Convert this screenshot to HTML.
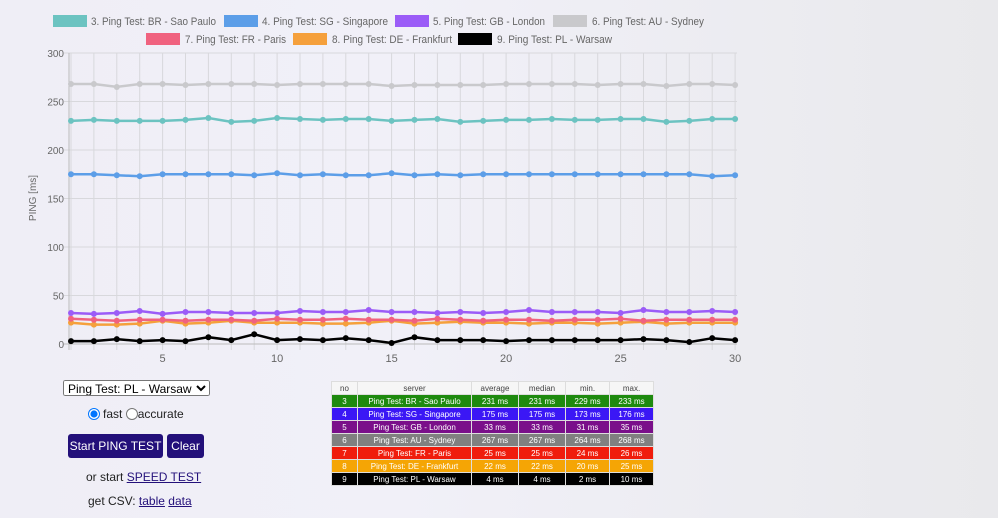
<!DOCTYPE html>
<html><head><style>
body{margin:0;width:998px;height:518px;overflow:hidden;font-family:"Liberation Sans",Arial,sans-serif;background:linear-gradient(90deg,#efeef6 0%,#f1f0f8 40%,#ececf1 75%,#e9e9ec 100%);position:relative}
.t{position:absolute;left:331px;top:381px;border-collapse:collapse;font-size:8px;text-align:center}
.t td{border:1px solid #ddd;height:12px;padding:0;white-space:nowrap}
.t tr.h td{background:#f6f6f6;color:#444}
.t tr td{color:#fff}
.b{position:absolute;top:434px;height:24px;background:#23107a;color:#fff;font-size:12px;border-radius:3px;line-height:24px;text-align:center;white-space:nowrap}
</style></head><body>
<svg width="998" height="380" style="position:absolute;left:0;top:0" font-family="Liberation Sans, Arial, sans-serif">
<g font-size="11" fill="#666" lengthAdjust="spacingAndGlyphs">
<rect x="53" y="15" width="34" height="12" fill="#6cc3c1"/><text x="91" y="25" textLength="125" lengthAdjust="spacingAndGlyphs">3. Ping Test: BR - Sao Paulo</text>
<rect x="224" y="15" width="34" height="12" fill="#5c9ee8"/><text x="262" y="25" textLength="126" lengthAdjust="spacingAndGlyphs">4. Ping Test: SG - Singapore</text>
<rect x="395" y="15" width="34" height="12" fill="#9b5cf7"/><text x="433" y="25" textLength="112" lengthAdjust="spacingAndGlyphs">5. Ping Test: GB - London</text>
<rect x="553" y="15" width="34" height="12" fill="#c9c9cc"/><text x="592" y="25" textLength="112" lengthAdjust="spacingAndGlyphs">6. Ping Test: AU - Sydney</text>
<rect x="146" y="33" width="34" height="12" fill="#f0627f"/><text x="185" y="43" textLength="101" lengthAdjust="spacingAndGlyphs">7. Ping Test: FR - Paris</text>
<rect x="293" y="33" width="34" height="12" fill="#f5a03c"/><text x="332" y="43" textLength="120" lengthAdjust="spacingAndGlyphs">8. Ping Test: DE - Frankfurt</text>
<rect x="458" y="33" width="34" height="12" fill="#000"/><text x="497" y="43" textLength="115" lengthAdjust="spacingAndGlyphs">9. Ping Test: PL - Warsaw</text>
</g>
<g id="grid" stroke="#d8d8dc" stroke-width="1"></g>
<g id="ylab" font-size="10" fill="#666" text-anchor="end"></g>
<g id="xlab" font-size="11" fill="#666" text-anchor="middle"></g>
<text transform="translate(36,198) rotate(-90)" font-size="10" fill="#666" text-anchor="middle">PING [ms]</text>
<g id="series"></g>
</svg>
<select style="position:absolute;left:63px;top:380px;width:147px;height:16px;font-size:12px;font-family:'Liberation Sans',Arial;padding:0"><option>Ping Test: PL - Warsaw</option></select>
<div style="position:absolute;left:88px;top:407px;font-size:12px;color:#222"><input type="radio" checked style="margin:0 3px 0 0;width:12px;height:12px;vertical-align:-2px">fast <input type="radio" style="margin:0;width:12px;height:12px;vertical-align:-2px">accurate</div>
<div class="b" style="left:68px;width:95px">Start PING TEST</div>
<div class="b" style="left:167px;width:37px">Clear</div>
<div style="position:absolute;left:86px;top:470px;font-size:12px;color:#222">or start <u style="color:#23107a">SPEED TEST</u></div>
<div style="position:absolute;left:88px;top:494px;font-size:12px;color:#222">get CSV: <u style="color:#23107a">table</u> <u style="color:#23107a">data</u></div>
<table class="t">
<tr class="h"><td style="width:25px">no</td><td style="width:113px">server</td><td style="width:46px">average</td><td style="width:46px">median</td><td style="width:43px">min.</td><td style="width:43px">max.</td></tr>
<tr style="background:#1e8a0e"><td>3</td><td>Ping Test: BR - Sao Paulo</td><td>231 ms</td><td>231 ms</td><td>229 ms</td><td>233 ms</td></tr>
<tr style="background:#3b17f5"><td>4</td><td>Ping Test: SG - Singapore</td><td>175 ms</td><td>175 ms</td><td>173 ms</td><td>176 ms</td></tr>
<tr style="background:#7a0f8a"><td>5</td><td>Ping Test: GB - London</td><td>33 ms</td><td>33 ms</td><td>31 ms</td><td>35 ms</td></tr>
<tr style="background:#808080"><td>6</td><td>Ping Test: AU - Sydney</td><td>267 ms</td><td>267 ms</td><td>264 ms</td><td>268 ms</td></tr>
<tr style="background:#f01c0c"><td>7</td><td>Ping Test: FR - Paris</td><td>25 ms</td><td>25 ms</td><td>24 ms</td><td>26 ms</td></tr>
<tr style="background:#f5a505"><td>8</td><td>Ping Test: DE - Frankfurt</td><td>22 ms</td><td>22 ms</td><td>20 ms</td><td>25 ms</td></tr>
<tr style="background:#000"><td>9</td><td>Ping Test: PL - Warsaw</td><td>4 ms</td><td>4 ms</td><td>2 ms</td><td>10 ms</td></tr>
</table>
<script>
function X(i){return 71+i*22.9}function Y(v){return 344-v*0.97}
var h='';
for(var i=0;i<30;i++)h+='<line x1="'+X(i)+'" y1="53" x2="'+X(i)+'" y2="350"/>';
for(var v=0;v<=300;v+=50)h+='<line x1="64" y1="'+Y(v)+'" x2="737" y2="'+Y(v)+'"/>';
h+='<line x1="69" y1="53" x2="69" y2="350" stroke="#bbb"/><line x1="64" y1="344" x2="737" y2="344" stroke="#bbb"/>';
document.getElementById('grid').innerHTML=h;
var yl='';[300,250,200,150,100,50,0].forEach(function(v){yl+='<text x="64" y="'+(Y(v)+4)+'">'+v+'</text>'});
document.getElementById('ylab').innerHTML=yl;
var xl='';[5,10,15,20,25,30].forEach(function(n){xl+='<text x="'+X(n-1)+'" y="362">'+n+'</text>'});
document.getElementById('xlab').innerHTML=xl;
var S=[
["#c9c9cc",[268,268,265,268,268,267,268,268,268,267,268,268,268,268,266,267,267,267,267,268,268,268,268,267,268,268,266,268,268,267]],
["#6cc3c1",[230,231,230,230,230,231,233,229,230,233,232,231,232,232,230,231,232,229,230,231,231,232,231,231,232,232,229,230,232,232]],
["#5c9ee8",[175,175,174,173,175,175,175,175,174,176,174,175,174,174,176,174,175,174,175,175,175,175,175,175,175,175,175,175,173,174]],
["#f5a03c",[22,20,20,21,24,21,22,24,22,22,22,21,21,22,24,21,22,23,22,22,21,22,22,21,22,23,21,22,22,22]],
["#f0627f",[26,25,24,25,25,24,25,25,24,26,25,25,26,25,25,24,26,25,24,25,25,24,25,25,26,24,25,25,25,25]],
["#9b5cf7",[32,31,32,34,31,33,33,32,32,32,34,33,33,35,33,33,32,33,32,33,35,33,33,33,32,35,33,33,34,33]],
["#000",[3,3,5,3,4,3,7,4,10,4,5,4,6,4,1,7,4,4,4,3,4,4,4,4,4,5,4,2,6,4]]];
var sh='';
S.forEach(function(s){var p=s[1].map(function(v,i){return X(i).toFixed(1)+','+Y(v).toFixed(1)}).join(' ');
sh+='<polyline points="'+p+'" fill="none" stroke="'+s[0]+'" stroke-width="2.5"/>';
s[1].forEach(function(v,i){sh+='<circle cx="'+X(i)+'" cy="'+Y(v)+'" r="3" fill="'+s[0]+'"/>'});});
document.getElementById('series').innerHTML=sh;
</script>
</body></html>
